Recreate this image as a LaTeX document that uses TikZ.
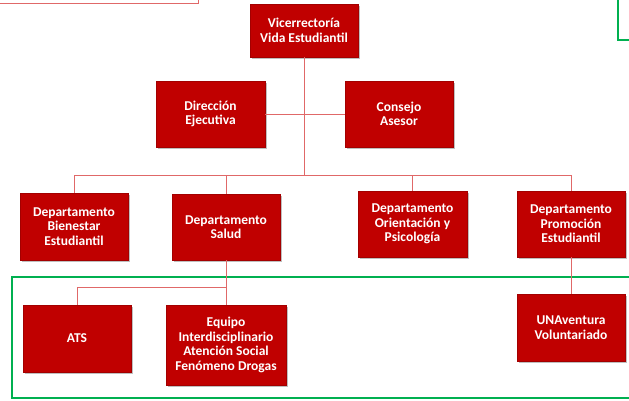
\documentclass[tikz,border=0pt]{standalone}
\usepackage{fontspec}
\setmainfont{Carlito}
\usetikzlibrary{shadows}
\definecolor{boxred}{HTML}{C00000}
\definecolor{linkred}{HTML}{E06868}
\definecolor{framegreen}{HTML}{00B050}
\tikzset{
  orgbox/.style={rectangle, fill=boxred, draw=boxred!85!black, line width=0.4pt,
    text=white, font=\fontsize{13.5}{14.6}\selectfont\bfseries, align=center,
    inner sep=2pt,
    drop shadow={shadow xshift=2.2pt, shadow yshift=-2.2pt, fill=black!45, opacity=0.55}},
  link/.style={draw=linkred, line width=0.9pt},
  frame/.style={draw=framegreen, line width=2.5pt}
}
\begin{document}
\begin{tikzpicture}[x=1pt,y=-1pt]
\clip (0,0) rectangle (629,400);
\useasboundingbox (0,0) rectangle (629,400);
\fill[white] (0,0) rectangle (629,400);

% partial frames at the top edges
\draw[draw=linkred, line width=1pt] (-5,3) -- (198,3) -- (198,-5);
\draw[frame] (618,-5) -- (618,40) -- (640,40);

% green frame
\draw[frame] (12,277) rectangle (640,398);

% helper coordinates
\coordinate (busy) at (0,175);
\coordinate (suby) at (0,287);

% boxes
\node[orgbox, minimum width=108pt, minimum height=53pt] (vice) at (304,30.5) {Vicerrectoría\\Vida Estudiantil};
\node[orgbox, minimum width=109pt, minimum height=66pt] (dir) at (210.5,114) {Dirección\\Ejecutiva};
\node[orgbox, minimum width=108pt, minimum height=66pt] (cons) at (399,114) {Consejo\\Asesor};
\node[orgbox, minimum width=108pt, minimum height=67pt] (bien) at (74,226.5) {Departamento\\Bienestar\\Estudiantil};
\node[orgbox, minimum width=108pt, minimum height=66pt] (salud) at (226,227) {Departamento\\Salud};
\node[orgbox, minimum width=109pt, minimum height=66pt] (orient) at (412.5,224) {Departamento\\Orientación y\\Psicología};
\node[orgbox, minimum width=108pt, minimum height=66pt] (promo) at (571,224) {Departamento\\Promoción\\Estudiantil};
\node[orgbox, minimum width=108pt, minimum height=67pt] (ats) at (77,338.5) {ATS};
\node[orgbox, minimum width=120pt, minimum height=80pt] (equipo) at (226,345) {Equipo\\Interdisciplinario\\Atención Social\\Fenómeno Drogas};
\node[orgbox, minimum width=108pt, minimum height=67pt] (una) at (571,327.5) {UNAventura\\Voluntariado};

% connectors
\draw[link] (vice.south) -- (vice.south |- busy);
\draw[link] (dir.east) -- (cons.west);
\draw[link] (bien.north) |- (promo.north |- busy) -- (promo.north);
\draw[link] (salud.north) -- (salud.north |- busy);
\draw[link] (orient.north) -- (orient.north |- busy);
\draw[link] (salud.south) -- (equipo.north);
\draw[link] (ats.north) |- (salud.south |- suby);
\draw[link] (promo.south) -- (una.north);
\end{tikzpicture}
\end{document}
